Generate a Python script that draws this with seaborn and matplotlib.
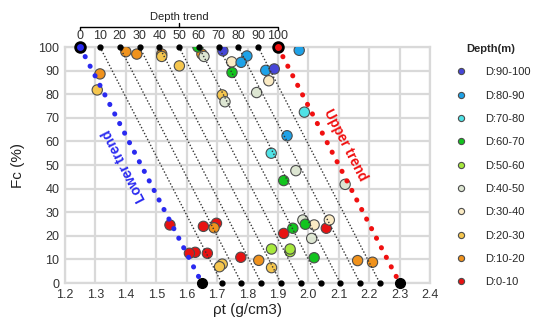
import numpy as np
import pandas as pd
import matplotlib
matplotlib.use("Agg")
import matplotlib.pyplot as plt
import seaborn as sns

# depth classes, legend order top -> bottom
depth_classes = ["D:90-100", "D:80-90", "D:70-80", "D:60-70", "D:50-60",
                 "D:40-50", "D:30-40", "D:20-30", "D:10-20", "D:0-10"]
depth_colors = ["#4646d8", "#1ea2e8", "#4fe2e6", "#12c41e", "#a6e83c",
                "#dde6d2", "#fbebc4", "#f5c64e", "#f0921c", "#e81212"]

# sample points
rho_d90_100 = [1.719, 1.888]
fc_d90_100 = [98.4, 90.7]
rho_d80_90 = [1.779, 1.798, 1.860, 1.970, 1.930]
fc_d80_90 = [93.5, 96.2, 90.1, 98.6, 62.4]
rho_d70_80 = [1.987, 1.878]
fc_d70_80 = [72.4, 55.0]
rho_d60_70 = [1.637, 1.749, 1.919, 1.949, 1.990, 2.019]
fc_d60_70 = [100.0, 89.2, 43.4, 23.2, 24.9, 10.7]
rho_d50_60 = [1.879, 1.940, 1.940]
fc_d50_60 = [14.4, 14.4, 13.3]
rho_d40_50 = [1.657, 1.830, 1.726, 1.959, 2.121, 1.982, 2.011]
fc_d40_50 = [96.0, 80.7, 76.8, 47.6, 41.8, 26.7, 18.9]
rho_d30_40 = [1.748, 1.870, 2.019, 2.069]
fc_d30_40 = [93.7, 85.7, 24.6, 26.7]
rho_d20_30 = [1.518, 1.576, 1.717, 1.306, 1.708, 1.717, 1.879]
fc_d20_30 = [96.0, 92.0, 79.7, 81.8, 6.9, 8.0, 6.5]
rho_d10_20 = [1.400, 1.436, 1.518, 1.650, 1.315, 1.690, 1.837, 2.162, 2.211]
fc_d10_20 = [98.0, 97.0, 97.0, 97.0, 88.6, 23.4, 9.6, 9.5, 8.8]
rho_d0_10 = [1.545, 1.655, 1.698, 1.609, 1.628, 1.668, 1.778, 1.919, 2.059]
fc_d0_10 = [24.6, 24.0, 25.3, 12.6, 13.0, 12.6, 10.9, 21.0, 23.2]

# depth trend: lines from Fc=100 to Fc=0
trend_labels = [0, 10, 20, 30, 40, 50, 60, 70, 80, 90, 100]
trend_top = [1.25, 1.315, 1.38, 1.445, 1.51, 1.575, 1.64, 1.705, 1.77, 1.835, 1.90]
trend_bottom = [1.65, 1.715, 1.78, 1.845, 1.91, 1.975, 2.04, 2.105, 2.17, 2.235, 2.30]

x_ticks = [1.2, 1.3, 1.4, 1.5, 1.6, 1.7, 1.8, 1.9, 2.0, 2.1, 2.2, 2.3, 2.4]
y_ticks = [0, 10, 20, 30, 40, 50, 60, 70, 80, 90, 100]

groups = [
    (rho_d90_100, fc_d90_100), (rho_d80_90, fc_d80_90), (rho_d70_80, fc_d70_80),
    (rho_d60_70, fc_d60_70), (rho_d50_60, fc_d50_60), (rho_d40_50, fc_d40_50),
    (rho_d30_40, fc_d30_40), (rho_d20_30, fc_d20_30), (rho_d10_20, fc_d10_20),
    (rho_d0_10, fc_d0_10),
]
frames = []
for name, (xs, ys) in zip(depth_classes, groups):
    frames.append(pd.DataFrame({"rho": xs, "fc": ys, "depth": name}))
df = pd.concat(frames, ignore_index=True)
# draw shallow last so red sits on top like the original
df = df.iloc[::-1].reset_index(drop=True)

sns.set_style("whitegrid")
plt.rcParams["font.family"] = ["Liberation Sans", "DejaVu Sans"]

fig = plt.figure(figsize=(5.34, 3.23), dpi=100)
ax = fig.add_axes([65 / 534, 40 / 323, 365 / 534, 236 / 323])

sns.scatterplot(
    data=df, x="rho", y="fc", hue="depth",
    hue_order=depth_classes,
    palette=dict(zip(depth_classes, depth_colors)),
    s=55, edgecolor="#4d4d4d", linewidth=0.8,
    zorder=3, ax=ax, legend="full"
)

# intermediate depth trend lines
for top, bot in zip(trend_top[1:-1], trend_bottom[1:-1]):
    ax.plot([top, bot], [100, 0], color="#333333", lw=1.0,
            linestyle=(0, (1, 1.4)), zorder=4, clip_on=False)
    ax.plot([top, bot], [100, 0], "o", color="black", ms=3.5,
            zorder=5, clip_on=False)

# lower / upper trend
ax.plot([trend_top[0], trend_bottom[0]], [100, 0], color="#2a2af0", lw=3.6,
        linestyle=(0, (0.05, 2.1)), dash_capstyle="round", zorder=4)
ax.plot([trend_top[-1], trend_bottom[-1]], [100, 0], color="#f01010", lw=3.6,
        linestyle=(0, (0.05, 2.1)), dash_capstyle="round", zorder=4)
ax.plot(trend_top[0], 100, "o", mfc="#2a2af0", mec="black", mew=2, ms=7,
        zorder=6, clip_on=False)
ax.plot(trend_top[-1], 100, "o", mfc="#f01010", mec="black", mew=2, ms=7,
        zorder=6, clip_on=False)
ax.plot([trend_bottom[0], trend_bottom[-1]], [0, 0], "o", color="black", ms=7,
        zorder=6, clip_on=False, lw=0)

ax.set_xlim(1.2, 2.4)
ax.set_ylim(0, 100)
ax.set_xticks(x_ticks)
ax.set_xticklabels([f"{v:.1f}" for v in x_ticks], fontsize=9, color="#333333")
ax.set_yticks(y_ticks)
ax.set_yticklabels([str(v) for v in y_ticks], fontsize=9, color="#333333")
ax.tick_params(length=0, pad=4)
ax.grid(True, color="#d9d9d9", lw=1.6)
for sp in ax.spines.values():
    sp.set_color("#d9d9d9")
    sp.set_linewidth(1.6)
ax.set_xlabel("ρt (g/cm3)", fontsize=11, color="#222222", labelpad=2)
ax.set_ylabel("Fc (%)", fontsize=11, color="#222222", labelpad=10)

# rotated trend labels
fig.canvas.draw()
p0 = ax.transData.transform((trend_top[0], 100))
p1 = ax.transData.transform((trend_bottom[0], 0))
ang = np.degrees(np.arctan2(p1[1] - p0[1], p1[0] - p0[0]))
ax.text(1.394, 50, "Lower trend", color="#2a2af0", fontsize=10,
        fontweight="bold", rotation=ang + 180, rotation_mode="anchor",
        ha="center", va="center", zorder=6)
ax.text(2.121, 58.5, "Upper trend", color="#f01010", fontsize=10,
        fontweight="bold", rotation=ang, rotation_mode="anchor",
        ha="center", va="center", zorder=6)

# top depth trend scale
tr = ax.get_xaxis_transform()
for x, lab in zip(trend_top, trend_labels):
    ax.text(x, 1.02, str(lab), transform=tr, ha="center", va="bottom",
            fontsize=9, color="#333333")
ax.plot([trend_top[0], trend_top[0], trend_top[-1], trend_top[-1]],
        [1.072, 1.086, 1.086, 1.072], transform=tr, color="black", lw=1.0,
        clip_on=False)
mid = (trend_top[0] + trend_top[-1]) / 2
ax.plot([mid, mid], [1.086, 1.10], transform=tr, color="black", lw=1.0,
        clip_on=False)
ax.text(mid, 1.108, "Depth trend", transform=tr, ha="center", va="bottom",
        fontsize=8, color="#222222")

sns.move_legend(
    ax, "upper left", bbox_to_anchor=(440 / 534, 1 - 34 / 323),
    bbox_transform=fig.transFigure, frameon=False, title="Depth(m)",
    fontsize=8, markerscale=0.6, labelspacing=1.2, handletextpad=1.2,
    title_fontproperties={"weight": "bold", "size": 8}
)

plt.savefig("out.png", dpi=100)
plt.close()
